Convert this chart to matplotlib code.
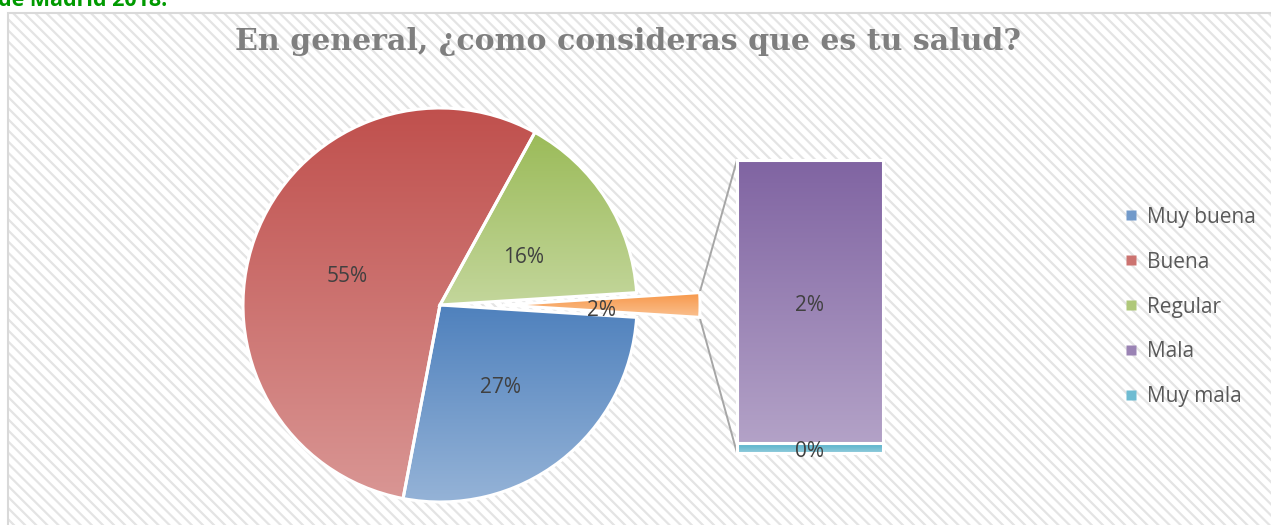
import numpy as np
import matplotlib
matplotlib.use('Agg')
import matplotlib.pyplot as plt
from matplotlib.patches import Rectangle
from matplotlib.lines import Line2D
import matplotlib.colors as mcolors

# ---------------- data ----------------
categories = ['Muy buena', 'Buena', 'Regular', 'Mala', 'Muy mala']
values = [27.0, 55.0, 16.0, 1.93, 0.07]          # percent
title = 'En general, ¿como consideras que es tu salud?'
top_text = 'de Madrid 2018.'

top_colors = ['#4F81BD', '#C0504D', '#9BBB59', '#8064A2', '#4BACC6']
bottom_colors = ['#95B3D7', '#D99694', '#C3D69B', '#B3A2C7', '#93CDDD']
other_top, other_bottom = '#F79646', '#FAC090'

W, H = 1271, 525
fig = plt.figure(figsize=(W / 100, H / 100), dpi=100)
fig.patch.set_facecolor('white')
plt.rcParams['hatch.linewidth'] = 1.6

# chart area background with diagonal stripes
frame_x0, frame_top = 8, 13
hatch_rect = Rectangle((frame_x0 / W, 0), 1, (H - frame_top) / H, transform=fig.transFigure,
                       facecolor='white', edgecolor='#E4E4E4', hatch='\\\\\\', lw=0, zorder=-10)
fig.patches.append(hatch_rect)
border = Rectangle((frame_x0 / W, -0.01), 1.1, (H - frame_top) / H + 0.01, transform=fig.transFigure,
                   facecolor='none', edgecolor='#D9D9D9', lw=1.5, zorder=-9)
fig.patches.append(border)

fig.text(-2 / W, 1 - 6 / H, top_text, color='#009A00', fontsize=15.5, fontweight='bold',
         family='Open Sans', ha='left', va='baseline')

fig.text(628 / W, 1 - 42 / H, title, color='#7F7F7F', fontsize=21.6, fontweight='bold',
         family='DejaVu Serif', ha='center', va='center')

ax = fig.add_axes([0, 0, 1, 1])
ax.patch.set_alpha(0)

pie_radius = 197
label_shift = 5  # pixels downward for data labels
pie_vals = values[:3] + [sum(values[3:])]
start = -pie_vals[3] / sum(pie_vals) * 180.0
wedges, texts, autotexts = ax.pie(
    pie_vals, center=(440, H - 305), radius=pie_radius, startangle=start, counterclock=False,
    explode=[0, 0, 0, 0.32 * pie_radius], autopct='%1.0f%%', pctdistance=0.5, frame=True,
    textprops=dict(color='#404040', fontsize=15, family='Open Sans'),
    wedgeprops=dict(edgecolor='white', linewidth=2.2))


def grad_img(axis, patch, c_top, c_bot, extent):
    t = np.linspace(0, 1, 256)[:, None]
    a = np.array(mcolors.to_rgb(c_top))
    b = np.array(mcolors.to_rgb(c_bot))
    img = (a[None, None, :] * (1 - t[:, :, None]) + b[None, None, :] * t[:, :, None])
    img = np.repeat(img, 2, axis=1)
    im = axis.imshow(img, extent=extent, origin='upper', aspect='auto', zorder=2,
                     interpolation='bilinear')
    im.set_clip_path(patch)
    return im


pie_tops = top_colors[:3] + [other_top]
pie_bots = bottom_colors[:3] + [other_bottom]
for w, ct, cb in zip(wedges, pie_tops, pie_bots):
    ext = w.get_path().get_extents()
    grad_img(ax, w, ct, cb, [ext.x0, ext.x1, ext.y0, ext.y1])
    w.set_facecolor('none')
    w.set_zorder(3)
for t in autotexts:
    t.set_zorder(4)
    x, y = t.get_position()
    t.set_position((x, y - label_shift))

ax.set_xlim(0, W)
ax.set_ylim(0, H)
ax.axis('off')

# ---------------- bar of pie ----------------
bx0, bx1, by_top, by_bot = 737, 883, 160, 453
bax = fig.add_axes([bx0 / W, (H - by_bot) / H, (bx1 - bx0) / W, (by_bot - by_top) / H])
bax.patch.set_alpha(0)
bottom = 0.0
bar_items = [(values[4], top_colors[4], bottom_colors[4]),
             (values[3], top_colors[3], bottom_colors[3])]
bar_total = values[3] + values[4]
px_per_unit = (by_bot - by_top) / bar_total
for v, ct, cb in bar_items:
    bars = bax.bar(0, v, width=1.0, bottom=bottom, edgecolor='white', linewidth=2.2,
                   facecolor='none', zorder=3, clip_on=False)
    r = bars[0]
    grad_img(bax, r, ct, cb, [-0.5, 0.5, bottom, bottom + v])
    bax.text(0, bottom + v / 2 - 4 / px_per_unit, f'{v:.0f}%', ha='center', va='center',
             color='#404040', fontsize=15, family='Open Sans', zorder=4, clip_on=False)
    bottom += v
bax.set_xlim(-0.5, 0.5)
bax.set_ylim(0, bottom)
bax.axis('off')

# connector lines
ow = wedges[3]
cx, cy = ow.center
for ang, ypx in [(ow.theta2, by_top), (ow.theta1, by_bot)]:
    px = cx + ow.r * np.cos(np.radians(ang))
    py = cy + ow.r * np.sin(np.radians(ang))
    ax.plot([px, bx0], [py, H - ypx], color='#A6A6A6', lw=1.4, zorder=1.5)
ax.set_xlim(0, W)
ax.set_ylim(0, H)

# legend
handles = [Line2D([], [], marker='s', ls='none', markersize=7,
                  markerfacecolor=mcolors.to_hex((np.array(mcolors.to_rgb(a)) + np.array(mcolors.to_rgb(b))) / 2),
                  markeredgecolor='none')
           for a, b in zip(top_colors, bottom_colors)]
leg = fig.legend(handles, categories, loc='center left', bbox_to_anchor=(1104 / W, 1 - 307 / H),
                 frameon=False, labelspacing=1.15, handletextpad=0.35, handlelength=0.8,
                 prop=dict(family='Open Sans', size=15), labelcolor='#595959')

fig.savefig('out.png', dpi=100)
